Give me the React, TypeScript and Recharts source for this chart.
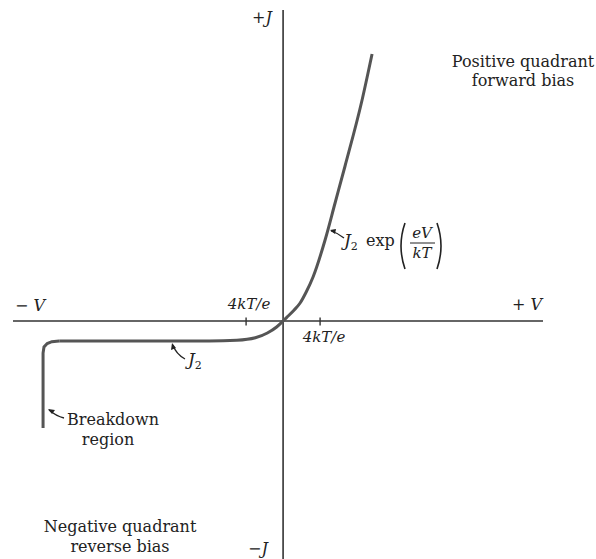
import { Customized, Line, LineChart, ReferenceLine, XAxis, YAxis } from "recharts"

// Voltage in units of kT/e, current density in arbitrary units of the drawing
const breakdownV = [-25.95, -25.95, -25.85, -25.5, -25.0, -24.2]
const breakdownJ = [-10.7, -3.2, -2.6, -2.25, -2.07, -2.0]

const diodeV = [-24.2, -15, -8, -5, -3, -1.7, -0.7, 0, 0.4, 1.2, 1.84, 2.5, 3.24, 4.54, 5.62, 6.7, 8.54, 9.62]
const diodeJ = [-2.0, -2.0, -2.0, -1.93, -1.68, -1.2, -0.6, 0, 0.36, 1.1, 1.8, 2.9, 4.4, 8.1, 11.8, 15.5, 22.1, 26.7]

const tickV = [-4, 4]

const breakdownData = breakdownV.map((v, i) => ({ v, j: breakdownJ[i] }))
const diodeData = diodeV.map((v, i) => ({ v, j: diodeJ[i] }))

const serif = "'DejaVu Serif', serif"
const ink = "#222"

function Annotations() {
  return (
    <g fontFamily={serif} fill={ink}>
      {/* axis ends */}
      <text x={15} y={311} fontSize={16}>
        − <tspan fontStyle="italic">V</tspan>
      </text>
      <text x={512} y={310} fontSize={16}>
        + <tspan fontStyle="italic">V</tspan>
      </text>
      <text x={252} y={23} fontSize={16}>
        +<tspan fontStyle="italic">J</tspan>
      </text>
      <text x={248} y={554} fontSize={16}>
        −<tspan fontStyle="italic">J</tspan>
      </text>

      {/* tick labels */}
      <text x={249} y={309} fontSize={15} fontStyle="italic" textAnchor="middle">
        4kT/e
      </text>
      <text x={324} y={342} fontSize={15} fontStyle="italic" textAnchor="middle">
        4kT/e
      </text>

      {/* quadrant notes */}
      <text x={523} y={67} fontSize={16} textAnchor="middle">
        Positive quadrant
      </text>
      <text x={523} y={86} fontSize={16} textAnchor="middle">
        forward bias
      </text>
      <text x={120} y={532} fontSize={16} textAnchor="middle">
        Negative quadrant
      </text>
      <text x={120} y={552} fontSize={16} textAnchor="middle">
        reverse bias
      </text>

      {/* breakdown note */}
      <text x={67} y={425} fontSize={16}>
        Breakdown
      </text>
      <text x={108} y={445} fontSize={16} textAnchor="middle">
        region
      </text>
      <path d="M64,418 Q56,416 49,410" fill="none" stroke={ink} strokeWidth={1.3} />
      <path d="M48,409 L55,410 L52,414 Z" fill={ink} />

      {/* saturation current note */}
      <text x={188} y={365} fontSize={17} fontStyle="italic">
        J<tspan fontSize={11} fontStyle="normal" dy={4}>2</tspan>
      </text>
      <path d="M185,359 Q176,354 173,345" fill="none" stroke={ink} strokeWidth={1.3} />
      <path d="M172,343 L171,350 L176,348 Z" fill={ink} />

      {/* forward current note */}
      <text x={344} y={246} fontSize={17} fontStyle="italic">
        J<tspan fontSize={11} fontStyle="normal" dy={4}>2</tspan>
      </text>
      <text x={366} y={246} fontSize={16}>
        exp
      </text>
      <path d="M405,223 Q397,246 405,269" fill="none" stroke={ink} strokeWidth={1.6} />
      <text x={422} y={238} fontSize={15} fontStyle="italic" textAnchor="middle">
        eV
      </text>
      <line x1={410} x2={435} y1={243} y2={243} stroke={ink} strokeWidth={1} />
      <text x={422} y={258} fontSize={15} fontStyle="italic" textAnchor="middle">
        kT
      </text>
      <path d="M437,223 Q445,246 437,269" fill="none" stroke={ink} strokeWidth={1.6} />
      <path d="M344,238 Q338,233 331,231" fill="none" stroke={ink} strokeWidth={1.3} />
      <path d="M330,230 L336,229 L335,234 Z" fill={ink} />
    </g>
  )
}

export default function App() {
  return (
    <div style={{ position: "absolute", left: 0, top: 0, background: "#fff" }}>
      <LineChart width={596} height={559} margin={{ top: 10, right: 53, bottom: 0, left: 13 }}>
        <XAxis type="number" dataKey="v" domain={[-29.2, 28.1]} allowDataOverflow hide />
        <YAxis type="number" dataKey="j" domain={[-23.8, 31.1]} allowDataOverflow hide />
        <ReferenceLine y={0} stroke="#333" strokeWidth={1.6} />
        <ReferenceLine x={0} stroke="#333" strokeWidth={1.6} />
        {tickV.map((v) => (
          <ReferenceLine
            key={v}
            segment={[
              { x: v, y: -0.45 },
              { x: v, y: 0.35 },
            ]}
            stroke="#333"
            strokeWidth={1.4}
          />
        ))}
        <Line
          data={breakdownData}
          dataKey="j"
          type="linear"
          stroke="#555"
          strokeWidth={3}
          dot={false}
          isAnimationActive={false}
        />
        <Line
          data={diodeData}
          dataKey="j"
          type="monotone"
          stroke="#555"
          strokeWidth={3}
          dot={false}
          isAnimationActive={false}
        />
        <Customized component={Annotations} />
      </LineChart>
    </div>
  )
}
